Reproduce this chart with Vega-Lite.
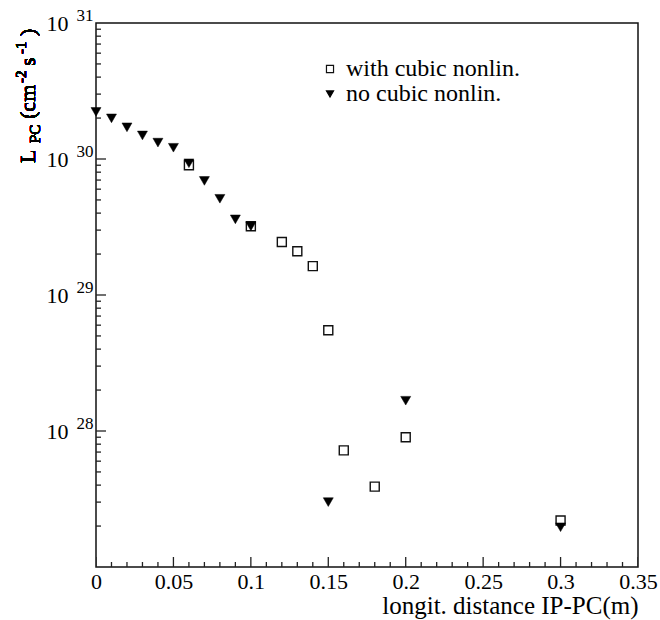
{
  "$schema": "https://vega.github.io/schema/vega-lite/v6.json",
  "autosize": {"type": "none"},
  "padding": {"left": 96, "top": 23, "right": 22, "bottom": 53},
  "width": 542,
  "height": 544,
  "config": {
    "font": "Liberation Serif",
    "view": {"stroke": "#111", "strokeWidth": 1.5},
    "axis": {
      "grid": false,
      "domain": false,
      "ticks": false,
      "tickSize": 0,
      "labelColor": "#000",
      "labelFont": "Liberation Serif",
      "titleFont": "Liberation Serif",
      "titleColor": "#000",
      "titleFontWeight": "normal",
      "labelOverlap": false,
      "labelFlush": false,
      "labelBound": false
    },
    "legend": {
      "labelFont": "Liberation Serif",
      "labelColor": "#000",
      "labelLimit": 400
    }
  },
  "datasets": {
    "xMajorTicks": [
      {"distance": 0}, {"distance": 0.05}, {"distance": 0.1}, {"distance": 0.15},
      {"distance": 0.2}, {"distance": 0.25}, {"distance": 0.3}, {"distance": 0.35}
    ],
    "xMinorTicks": [
      {"distance": 0.01}, {"distance": 0.02}, {"distance": 0.03}, {"distance": 0.04},
      {"distance": 0.06}, {"distance": 0.07}, {"distance": 0.08}, {"distance": 0.09},
      {"distance": 0.11}, {"distance": 0.12}, {"distance": 0.13}, {"distance": 0.14},
      {"distance": 0.16}, {"distance": 0.17}, {"distance": 0.18}, {"distance": 0.19},
      {"distance": 0.21}, {"distance": 0.22}, {"distance": 0.23}, {"distance": 0.24},
      {"distance": 0.26}, {"distance": 0.27}, {"distance": 0.28}, {"distance": 0.29},
      {"distance": 0.31}, {"distance": 0.32}, {"distance": 0.33}, {"distance": 0.34}
    ],
    "yMajorTicks": [
      {"lumi": 1e28}, {"lumi": 1e29}, {"lumi": 1e30}
    ],
    "yMinorTicks": [
      {"lumi": 2e27}, {"lumi": 3e27}, {"lumi": 4e27}, {"lumi": 5e27}, {"lumi": 6e27}, {"lumi": 7e27}, {"lumi": 8e27}, {"lumi": 9e27},
      {"lumi": 2e28}, {"lumi": 3e28}, {"lumi": 4e28}, {"lumi": 5e28}, {"lumi": 6e28}, {"lumi": 7e28}, {"lumi": 8e28}, {"lumi": 9e28},
      {"lumi": 2e29}, {"lumi": 3e29}, {"lumi": 4e29}, {"lumi": 5e29}, {"lumi": 6e29}, {"lumi": 7e29}, {"lumi": 8e29}, {"lumi": 9e29},
      {"lumi": 2e30}, {"lumi": 3e30}, {"lumi": 4e30}, {"lumi": 5e30}, {"lumi": 6e30}, {"lumi": 7e30}, {"lumi": 8e30}, {"lumi": 9e30}
    ]
  },
  "data": {
    "values": [
      {"series": "with cubic nonlin.", "distance": 0.06, "lumi": 9.0e29},
      {"series": "with cubic nonlin.", "distance": 0.10, "lumi": 3.2e29},
      {"series": "with cubic nonlin.", "distance": 0.12, "lumi": 2.45e29},
      {"series": "with cubic nonlin.", "distance": 0.13, "lumi": 2.10e29},
      {"series": "with cubic nonlin.", "distance": 0.14, "lumi": 1.63e29},
      {"series": "with cubic nonlin.", "distance": 0.15, "lumi": 5.5e28},
      {"series": "with cubic nonlin.", "distance": 0.16, "lumi": 7.2e27},
      {"series": "with cubic nonlin.", "distance": 0.18, "lumi": 3.9e27},
      {"series": "with cubic nonlin.", "distance": 0.20, "lumi": 9.0e27},
      {"series": "with cubic nonlin.", "distance": 0.30, "lumi": 2.2e27},
      {"series": "no cubic nonlin.", "distance": 0.00, "lumi": 2.22e30},
      {"series": "no cubic nonlin.", "distance": 0.01, "lumi": 1.99e30},
      {"series": "no cubic nonlin.", "distance": 0.02, "lumi": 1.71e30},
      {"series": "no cubic nonlin.", "distance": 0.03, "lumi": 1.49e30},
      {"series": "no cubic nonlin.", "distance": 0.04, "lumi": 1.32e30},
      {"series": "no cubic nonlin.", "distance": 0.05, "lumi": 1.21e30},
      {"series": "no cubic nonlin.", "distance": 0.06, "lumi": 9.3e29},
      {"series": "no cubic nonlin.", "distance": 0.07, "lumi": 6.9e29},
      {"series": "no cubic nonlin.", "distance": 0.08, "lumi": 5.1e29},
      {"series": "no cubic nonlin.", "distance": 0.09, "lumi": 3.6e29},
      {"series": "no cubic nonlin.", "distance": 0.10, "lumi": 3.2e29},
      {"series": "no cubic nonlin.", "distance": 0.15, "lumi": 3.0e27},
      {"series": "no cubic nonlin.", "distance": 0.20, "lumi": 1.67e28},
      {"series": "no cubic nonlin.", "distance": 0.30, "lumi": 1.96e27}
    ]
  },
  "resolve": {"axis": {"x": "independent", "y": "independent"}},
  "layer": [
    {
      "data": {"name": "xMajorTicks"},
      "mark": {"type": "tick", "orient": "vertical", "size": 20, "thickness": 1.3, "color": "#222", "opacity": 1, "clip": true},
      "encoding": {
        "x": {"field": "distance", "type": "quantitative", "scale": {"domain": [0, 0.35], "nice": false, "zero": false}, "axis": null},
        "y": {"datum": 1e27, "type": "quantitative", "scale": {"type": "log", "domain": [1e27, 1e31], "nice": false}, "axis": null}
      }
    },
    {
      "data": {"name": "xMinorTicks"},
      "mark": {"type": "tick", "orient": "vertical", "size": 10, "thickness": 1.3, "color": "#222", "opacity": 1, "clip": true},
      "encoding": {
        "x": {"field": "distance", "type": "quantitative", "scale": {"domain": [0, 0.35], "nice": false, "zero": false}, "axis": null},
        "y": {"datum": 1e27, "type": "quantitative", "scale": {"type": "log", "domain": [1e27, 1e31], "nice": false}, "axis": null}
      }
    },
    {
      "data": {"name": "yMajorTicks"},
      "mark": {"type": "tick", "orient": "horizontal", "size": 20, "thickness": 1.3, "color": "#222", "opacity": 1, "clip": true},
      "encoding": {
        "x": {"datum": 0, "type": "quantitative", "scale": {"domain": [0, 0.35], "nice": false, "zero": false}, "axis": null},
        "y": {"field": "lumi", "type": "quantitative", "scale": {"type": "log", "domain": [1e27, 1e31], "nice": false}, "axis": null}
      }
    },
    {
      "data": {"name": "yMinorTicks"},
      "mark": {"type": "tick", "orient": "horizontal", "size": 10, "thickness": 1.3, "color": "#222", "opacity": 1, "clip": true},
      "encoding": {
        "x": {"datum": 0, "type": "quantitative", "scale": {"domain": [0, 0.35], "nice": false, "zero": false}, "axis": null},
        "y": {"field": "lumi", "type": "quantitative", "scale": {"type": "log", "domain": [1e27, 1e31], "nice": false}, "axis": null}
      }
    },
    {
      "transform": [{"filter": "datum.series === 'with cubic nonlin.'"}],
      "mark": {"type": "point", "size": 81, "strokeWidth": 1.4, "opacity": 1},
      "encoding": {
        "x": {
          "field": "distance", "type": "quantitative",
          "scale": {"domain": [0, 0.35], "nice": false, "zero": false},
          "axis": {
            "orient": "bottom",
            "values": [0, 0.05, 0.1, 0.15, 0.2, 0.25, 0.3, 0.35],
            "labelExpr": "datum.value === 0 ? '0' : format(datum.value, '.2~f')",
            "labelFontSize": 22,
            "labelPadding": 4,
            "title": "longit. distance IP-PC(m)",
            "titleFontSize": 25,
            "titleAnchor": "end",
            "titleAlign": "right",
            "titleBaseline": "alphabetic",
            "titleY": 46
          }
        },
        "y": {
          "field": "lumi", "type": "quantitative",
          "scale": {"type": "log", "domain": [1e27, 1e31], "nice": false},
          "axis": {
            "orient": "left",
            "values": [1e28, 1e29, 1e30, 1e31],
            "labelExpr": "'10'",
            "labelFontSize": 22,
            "labelPadding": 28,
            "title": null
          }
        },
        "shape": {
          "field": "series", "type": "nominal",
          "scale": {"domain": ["with cubic nonlin.", "no cubic nonlin."], "range": ["square", "triangle-down"]},
          "legend": {
            "title": null,
            "orient": "none",
            "legendX": 222,
            "legendY": 34,
            "labelFontSize": 24,
            "labelOffset": 4,
            "labelLimit": 400,
            "symbolSize": 50,
            "symbolStrokeWidth": 1.2,
            "rowPadding": 1
          }
        },
        "fill": {
          "field": "series", "type": "nominal",
          "scale": {"domain": ["with cubic nonlin.", "no cubic nonlin."], "range": ["transparent", "#000"]},
          "legend": {
            "title": null,
            "orient": "none",
            "legendX": 222,
            "legendY": 34,
            "labelFontSize": 24,
            "labelOffset": 4,
            "labelLimit": 400,
            "symbolSize": 50,
            "symbolStrokeWidth": 1.2,
            "rowPadding": 1
          }
        },
        "stroke": {
          "field": "series", "type": "nominal",
          "scale": {"domain": ["with cubic nonlin.", "no cubic nonlin."], "range": ["#111", "#000"]},
          "legend": {
            "title": null,
            "orient": "none",
            "legendX": 222,
            "legendY": 34,
            "labelFontSize": 24,
            "labelOffset": 4,
            "labelLimit": 400,
            "symbolSize": 50,
            "symbolStrokeWidth": 1.2,
            "rowPadding": 1
          }
        }
      }
    },
    {
      "transform": [{"filter": "datum.series === 'no cubic nonlin.'"}],
      "mark": {"type": "point", "size": 100, "strokeWidth": 0.5, "opacity": 1},
      "encoding": {
        "x": {
          "field": "distance", "type": "quantitative",
          "scale": {"domain": [0, 0.35], "nice": false, "zero": false},
          "axis": null
        },
        "y": {
          "field": "lumi", "type": "quantitative",
          "scale": {"type": "log", "domain": [1e27, 1e31], "nice": false},
          "axis": {
            "orient": "left",
            "values": [1e28, 1e29, 1e30, 1e31],
            "labelExpr": "format(round(log(datum.value) / LN10), 'd')",
            "labelFontSize": 17,
            "labelPadding": 3,
            "labelOffset": -8,
            "title": null
          }
        },
        "shape": {"field": "series", "type": "nominal", "scale": {"domain": ["with cubic nonlin.", "no cubic nonlin."], "range": ["square", "triangle-down"]}},
        "fill": {"field": "series", "type": "nominal", "scale": {"domain": ["with cubic nonlin.", "no cubic nonlin."], "range": ["transparent", "#000"]}},
        "stroke": {"field": "series", "type": "nominal", "scale": {"domain": ["with cubic nonlin.", "no cubic nonlin."], "range": ["#111", "#000"]}}
      }
    },
    {
      "mark": {"type": "text", "text": "L", "angle": 270, "align": "left", "baseline": "alphabetic", "fontSize": 22, "font": "Liberation Serif", "color": "#000"},
      "encoding": {
        "x": {"datum": -0.0394, "type": "quantitative", "scale": {"domain": [0, 0.35], "nice": false, "zero": false}, "axis": null},
        "y": {"datum": 9.35e29, "type": "quantitative", "scale": {"type": "log", "domain": [1e27, 1e31], "nice": false}, "axis": null}
      }
    },
    {
      "mark": {"type": "text", "text": "PC", "angle": 270, "align": "left", "baseline": "alphabetic", "fontSize": 15, "font": "Liberation Serif", "color": "#000"},
      "encoding": {
        "x": {"datum": -0.0362, "type": "quantitative", "scale": {"domain": [0, 0.35], "nice": false, "zero": false}, "axis": null},
        "y": {"datum": 1.31e30, "type": "quantitative", "scale": {"type": "log", "domain": [1e27, 1e31], "nice": false}, "axis": null}
      }
    },
    {
      "mark": {"type": "text", "text": "(cm", "angle": 270, "align": "left", "baseline": "alphabetic", "fontSize": 22, "font": "Liberation Serif", "color": "#000"},
      "encoding": {
        "x": {"datum": -0.0394, "type": "quantitative", "scale": {"domain": [0, 0.35], "nice": false, "zero": false}, "axis": null},
        "y": {"datum": 1.97e30, "type": "quantitative", "scale": {"type": "log", "domain": [1e27, 1e31], "nice": false}, "axis": null}
      }
    },
    {
      "mark": {"type": "text", "text": "-2", "angle": 270, "align": "left", "baseline": "alphabetic", "fontSize": 15, "font": "Liberation Serif", "color": "#000"},
      "encoding": {
        "x": {"datum": -0.0452, "type": "quantitative", "scale": {"domain": [0, 0.35], "nice": false, "zero": false}, "axis": null},
        "y": {"datum": 3.62e30, "type": "quantitative", "scale": {"type": "log", "domain": [1e27, 1e31], "nice": false}, "axis": null}
      }
    },
    {
      "mark": {"type": "text", "text": "s", "angle": 270, "align": "left", "baseline": "alphabetic", "fontSize": 22, "font": "Liberation Serif", "color": "#000"},
      "encoding": {
        "x": {"datum": -0.0394, "type": "quantitative", "scale": {"domain": [0, 0.35], "nice": false, "zero": false}, "axis": null},
        "y": {"datum": 4.83e30, "type": "quantitative", "scale": {"type": "log", "domain": [1e27, 1e31], "nice": false}, "axis": null}
      }
    },
    {
      "mark": {"type": "text", "text": "-1", "angle": 270, "align": "left", "baseline": "alphabetic", "fontSize": 15, "font": "Liberation Serif", "color": "#000"},
      "encoding": {
        "x": {"datum": -0.0452, "type": "quantitative", "scale": {"domain": [0, 0.35], "nice": false, "zero": false}, "axis": null},
        "y": {"datum": 5.92e30, "type": "quantitative", "scale": {"type": "log", "domain": [1e27, 1e31], "nice": false}, "axis": null}
      }
    },
    {
      "mark": {"type": "text", "text": ")", "angle": 270, "align": "left", "baseline": "alphabetic", "fontSize": 22, "font": "Liberation Serif", "color": "#000"},
      "encoding": {
        "x": {"datum": -0.0394, "type": "quantitative", "scale": {"domain": [0, 0.35], "nice": false, "zero": false}, "axis": null},
        "y": {"datum": 8.03e30, "type": "quantitative", "scale": {"type": "log", "domain": [1e27, 1e31], "nice": false}, "axis": null}
      }
    }
  ]
}
